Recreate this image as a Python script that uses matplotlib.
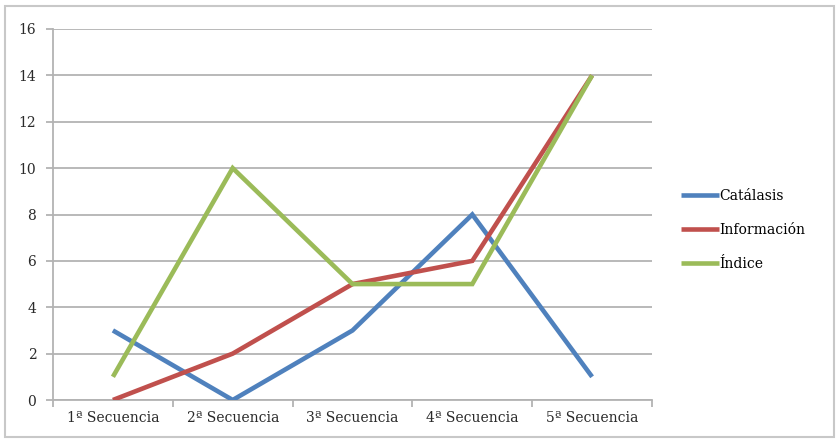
import matplotlib
matplotlib.use("Agg")
import matplotlib.pyplot as plt
from matplotlib.patches import Rectangle

categories = ["1ª Secuencia", "2ª Secuencia", "3ª Secuencia", "4ª Secuencia", "5ª Secuencia"]
catalasis = [3, 0, 3, 8, 1]
informacion = [0, 2, 5, 6, 14]
indice = [1, 10, 5, 5, 14]
series_names = ["Catálasis", "Información", "Índice"]
y_ticks = [0, 2, 4, 6, 8, 10, 12, 14, 16]

colors = ["#4F81BD", "#C0504D", "#9BBB59"]
grid_color = "#B3B3B3"
font = "DejaVu Serif"
fsize = 10

W, H = 839, 443
fig = plt.figure(figsize=(W / 100, H / 100), dpi=100)
fig.patch.set_facecolor("white")

# outer chart border
fig.patches.append(Rectangle((5 / W, 6 / H), 829 / W, 431 / H, transform=fig.transFigure,
                             fill=False, edgecolor="#C8C8C8", linewidth=1.5))

ax = fig.add_axes([53 / W, (H - 400) / H, (652 - 53) / W, (400 - 29) / H])
x = list(range(len(categories)))
for vals, name, c in zip([catalasis, informacion, indice], series_names, colors):
    ax.plot(x, vals, color=c, linewidth=3.3, label=name, solid_capstyle="butt",
            solid_joinstyle="miter", zorder=3)

ax.set_xlim(-0.5, len(categories) - 0.5)
ax.set_ylim(0, 16)
ax.set_yticks(y_ticks)
ax.set_yticklabels([str(v) for v in y_ticks], fontfamily=font, fontsize=fsize, color="#2A2A2A")
ax.yaxis.grid(True, color=grid_color, linewidth=1.3)
ax.set_axisbelow(True)

ax.set_xticks(x)
ax.set_xticklabels(categories, fontfamily=font, fontsize=fsize, color="#2A2A2A")
ax.tick_params(axis="x", length=0, pad=8)
ax.set_xticks([i - 0.5 for i in range(len(categories) + 1)], minor=True)
ax.tick_params(axis="x", which="minor", length=5, color=grid_color, width=1.3)
ax.tick_params(axis="y", length=5, color=grid_color, width=1.3, pad=7)

for side in ["top", "right"]:
    ax.spines[side].set_visible(False)
for side in ["left", "bottom"]:
    ax.spines[side].set_color(grid_color)
    ax.spines[side].set_linewidth(1.3)

leg = fig.legend(loc="upper left", bbox_to_anchor=(675 / W, 1 - 183 / H), frameon=False,
                 prop={"family": font, "size": fsize}, handlelength=2.8, handletextpad=0.0,
                 labelspacing=1.45, borderaxespad=0)
for line in leg.get_lines():
    line.set_linewidth(3.3)

fig.savefig("out.png", dpi=100, facecolor="white")
